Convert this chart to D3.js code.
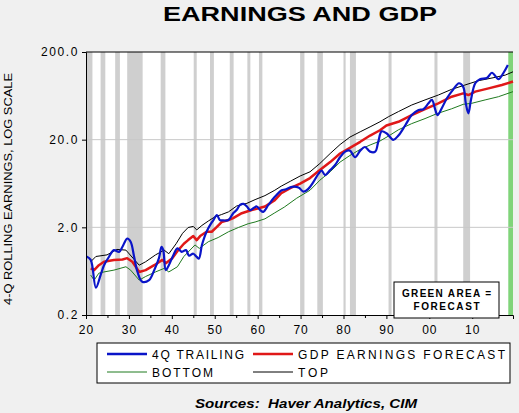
<!DOCTYPE html>
<html>
<head>
<meta charset="utf-8">
<script src="https://cdn.jsdelivr.net/npm/d3@7"></script>
<style>
  html, body { margin: 0; padding: 0; background: #f0f0f0; }
  svg { display: block; }
  text { font-family: "Liberation Sans", Arial, sans-serif; }
</style>
</head>
<body>
<svg id="chart" width="519" height="413"></svg>
<script>
// ---- Data ----
const trailing = [
  [1920.1,0.93],[1921.1,0.85],[1922.3,0.41],[1923.4,0.57],[1924.2,0.74],[1925.4,0.93],
  [1926.5,1.10],[1927.7,1.05],[1928.5,1.20],[1929.6,1.49],[1930.4,1.37],[1931.2,0.93],
  [1932.0,0.62],[1933.1,0.48],[1934.7,0.50],[1935.9,0.65],[1937.0,0.89],[1937.6,1.20],
  [1938.0,1.10],[1938.6,0.65],[1939.3,0.74],[1940.3,0.95],[1941.3,1.15],[1942.3,1.05],
  [1943.3,1.10],[1944.0,0.95],[1945.0,1.00],[1945.8,0.92],[1946.3,0.88],[1947.0,1.25],
  [1947.6,1.55],[1948.1,1.78],[1948.9,2.12],[1949.7,2.42],[1950.5,2.76],[1951.2,2.42],
  [1952.0,2.40],[1953.2,2.42],[1954.3,2.90],[1955.1,3.15],[1955.9,3.60],[1956.7,3.70],
  [1957.5,3.46],[1958.2,3.15],[1959.0,3.30],[1959.8,3.46],[1960.6,3.15],[1961.3,3.00],
  [1962.5,3.60],[1964.0,4.46],[1965.6,5.30],[1966.4,5.40],[1968.0,5.80],[1969.5,5.70],
  [1970.7,5.10],[1971.8,5.50],[1973.0,6.60],[1974.2,8.20],[1974.9,8.90],[1975.7,7.90],
  [1976.9,9.00],[1978.0,10.2],[1979.2,12.6],[1980.4,14.6],[1981.5,15.0],[1982.7,12.6],
  [1983.9,15.0],[1985.0,16.5],[1986.2,14.6],[1987.4,14.6],[1988.1,18.9],[1988.9,24.9],
  [1990.1,23.5],[1991.6,19.9],[1992.8,22.3],[1994.4,29.2],[1995.9,38.2],[1997.5,43.7],
  [1998.6,44.5],[1999.8,52.0],[2000.6,56.8],[2001.4,43.7],[2001.9,38.2],[2002.9,45.7],
  [2004.1,59.4],[2005.6,75.0],[2006.9,88.0],[2007.9,80.0],[2008.5,52.0],[2009.1,40.0],
  [2009.7,56.8],[2010.7,88.0],[2011.8,98.0],[2013.4,101],[2014.6,116],[2016.1,98.0],
  [2017.3,116],[2018.3,142]
];
const gdpForecast = [
  [1921.1,0.68],[1921.9,0.65],[1923.0,0.74],[1924.2,0.81],[1926.5,0.85],[1928.5,0.86],
  [1929.6,0.89],[1930.8,0.81],[1932.4,0.62],[1933.9,0.65],[1935.9,0.74],[1937.8,0.85],
  [1938.6,0.78],[1940.1,0.89],[1941.5,1.10],[1942.8,1.30],[1943.8,1.43],[1945.0,1.59],
  [1945.8,1.43],[1946.6,1.59],[1948.1,1.78],[1949.3,1.78],[1950.5,2.02],[1951.6,2.30],
  [1953.2,2.42],[1954.3,2.55],[1956.3,2.90],[1958.6,3.15],[1960.2,3.30],[1961.7,3.46],
  [1964.0,4.09],[1965.5,4.90],[1967.6,5.60],[1969.9,6.30],[1972.2,7.30],[1974.5,9.00],
  [1976.9,11.1],[1979.2,13.9],[1981.5,16.1],[1983.9,18.9],[1986.2,22.3],[1988.5,25.6],
  [1990.0,29.0],[1992.8,32.0],[1995.9,38.2],[1999.0,44.5],[2002.1,52.0],[2005.2,61.8],
  [2007.9,67.5],[2009.1,64.6],[2010.7,70.6],[2013.8,77.0],[2016.9,84.0],[2019.5,92.0]
];
const bottomBand = [
  [1921.1,0.57],[1921.9,0.50],[1923.0,0.60],[1924.2,0.62],[1926.5,0.65],[1929.3,0.71],
  [1930.4,0.65],[1932.4,0.50],[1933.9,0.55],[1936.2,0.62],[1938.2,0.68],[1939.3,0.62],
  [1941.3,0.71],[1942.8,0.93],[1945.4,1.26],[1946.4,1.15],[1948.5,1.37],[1950.8,1.53],
  [1953.2,1.78],[1955.5,1.99],[1957.8,2.20],[1959.4,2.30],[1961.7,2.50],[1964.0,2.93],
  [1966.2,3.40],[1969.1,4.30],[1972.2,5.30],[1974.5,6.90],[1976.9,8.60],[1979.2,11.1],
  [1981.5,13.2],[1983.9,15.5],[1986.2,17.4],[1988.5,19.3],[1990.5,22.0],[1992.8,25.9],
  [1995.9,30.5],[1999.0,34.8],[2001.7,39.5],[2005.2,45.0],[2007.9,50.6],[2009.9,52.0],
  [2013.0,56.8],[2016.1,61.8],[2019.5,70.6]
];
const topBand = [
  [1921.1,0.81],[1922.3,0.93],[1924.9,0.97],[1927.2,1.12],[1929.3,1.10],[1932.4,0.74],
  [1933.9,0.81],[1936.2,0.97],[1938.2,1.10],[1939.3,1.00],[1941.0,1.30],[1942.5,1.71],
  [1943.8,1.99],[1945.0,2.05],[1945.8,1.87],[1947.0,2.10],[1948.5,2.36],[1950.0,2.63],
  [1951.6,2.80],[1953.2,3.00],[1955.1,3.50],[1957.5,3.76],[1959.4,4.14],[1961.7,4.60],
  [1964.0,5.30],[1965.5,5.90],[1967.6,6.70],[1969.9,7.70],[1972.2,8.60],[1974.5,10.7],
  [1976.9,13.9],[1979.2,17.6],[1981.5,21.4],[1983.9,24.6],[1986.2,28.0],[1988.5,32.0],
  [1990.5,36.6],[1992.8,41.8],[1995.9,49.7],[1999.0,56.8],[2002.1,64.6],[2005.2,75.0],
  [2008.3,84.0],[2011.4,94.0],[2014.6,101],[2017.7,109],[2019.5,119]
];
const recessions = [
  [1920.0,1921.5],[1923.4,1924.5],[1926.8,1927.9],[1929.6,1933.2],[1937.4,1938.5],
  [1945.1,1945.8],[1948.9,1949.8],[1953.5,1954.4],[1957.6,1958.3],[1960.3,1961.1],
  [1969.9,1970.9],[1973.9,1975.2],[1980.0,1980.5],[1981.5,1982.9],[1990.5,1991.2],
  [2001.2,2001.9],[2007.9,2009.5]
];
const forecastSpan = [2018.4, 2019.5];
const xDomain = [1920, 2019.5];
const yDomain = [0.2, 200];
const yTicks = [0.2, 2, 20, 200];
const xMajorTicks = [1920,1930,1940,1950,1960,1970,1980,1990,2000,2010];
const xMinorTicks = [1925,1935,1945,1955,1965,1975,1985,1995,2005,2015];
const titleText = "EARNINGS AND GDP";
const yLabel = "4-Q ROLLING EARNINGS, LOG SCALE";
const sourceText = "Sources:  Haver Analytics, CIM";
const legendItems = ["4Q TRAILING", "GDP EARNINGS FORECAST", "BOTTOM", "TOP"];

// ---- Layout ----
const svg = d3.select("#chart");
const L = 86, R = 513, T = 52, B = 315;
const x = d3.scaleLinear().domain(xDomain).range([L, R]);
const y = d3.scaleLog().domain(yDomain).range([B, T]);

// plot background
svg.append("rect").attr("x", L).attr("y", T).attr("width", R - L).attr("height", B - T).attr("fill", "#ffffff");

// recession bars
svg.append("g").selectAll("rect").data(recessions).join("rect")
  .attr("x", d => x(d[0])).attr("y", T)
  .attr("width", d => Math.max(2, x(d[1]) - x(d[0])))
  .attr("height", B - T).attr("fill", "#cfcfcf");

// forecast area
svg.append("rect").attr("x", x(forecastSpan[0])).attr("y", T)
  .attr("width", x(forecastSpan[1]) - x(forecastSpan[0])).attr("height", B - T)
  .attr("fill", "#80d47a");

// gridlines
svg.append("g").selectAll("line").data([2, 20]).join("line")
  .attr("x1", L).attr("x2", R).attr("y1", d => y(d)).attr("y2", d => y(d))
  .attr("stroke", "#c8c8c8").attr("stroke-width", 1);

// lines
const line = d3.line().x(d => x(d[0])).y(d => y(d[1]));
const smooth = d3.line().x(d => x(d[0])).y(d => y(d[1])).curve(d3.curveCatmullRom.alpha(0.5));
svg.append("path").datum(bottomBand).attr("d", line).attr("fill", "none").attr("stroke", "#1f7a1f").attr("stroke-width", 1);
svg.append("path").datum(topBand).attr("d", line).attr("fill", "none").attr("stroke", "#000000").attr("stroke-width", 1);
svg.append("path").datum(gdpForecast).attr("d", line).attr("fill", "none").attr("stroke", "#e01818").attr("stroke-width", 2.5).attr("stroke-linejoin", "round");
svg.append("path").datum(trailing).attr("d", smooth).attr("fill", "none").attr("stroke", "#0a14c8").attr("stroke-width", 2.2).attr("stroke-linejoin", "round");

// axes
const yAxis = d3.axisLeft(y).tickValues(yTicks).tickFormat(d3.format(".1f")).tickSize(4).tickPadding(3);
const gy = svg.append("g").attr("transform", `translate(${L},0)`).call(yAxis);
gy.select(".domain").attr("stroke", "#000");
gy.selectAll("text").attr("font-size", 12).attr("letter-spacing", 1.6).attr("fill", "#000");

const xAxis = d3.axisBottom(x).tickValues(xMajorTicks)
  .tickFormat(d => String(d % 100).padStart(2, "0")).tickSize(4).tickPadding(6);
const gx = svg.append("g").attr("transform", `translate(0,${B})`).call(xAxis);
gx.select(".domain").attr("stroke", "#000");
gx.selectAll("text").attr("font-size", 12).attr("letter-spacing", 1).attr("fill", "#000");
const xMinor = d3.axisBottom(x).tickValues(xMinorTicks).tickFormat("").tickSize(3);
const gxm = svg.append("g").attr("transform", `translate(0,${B})`).call(xMinor);
gxm.select(".domain").remove();

// top border
svg.append("line").attr("x1", L).attr("x2", R).attr("y1", T).attr("y2", T).attr("stroke", "#000");

// forecast note box
svg.append("rect").attr("x", 394).attr("y", 282).attr("width", 105).attr("height", 36)
  .attr("fill", "#fff").attr("stroke", "#000").attr("stroke-width", 1);
svg.append("text").attr("x", 446.5).attr("y", 297).attr("text-anchor", "middle")
  .attr("font-size", 10).attr("font-weight", "bold")
  .attr("textLength", 89).attr("lengthAdjust", "spacing").text("GREEN AREA =");
svg.append("text").attr("x", 446.5).attr("y", 310).attr("text-anchor", "middle")
  .attr("font-size", 10).attr("font-weight", "bold")
  .attr("textLength", 66).attr("lengthAdjust", "spacing").text("FORECAST");

// title
svg.append("text").attr("x", 300).attr("y", 21).attr("text-anchor", "middle")
  .attr("font-size", 20).attr("font-weight", "bold")
  .attr("textLength", 274).attr("lengthAdjust", "spacingAndGlyphs").text(titleText);

// y label
svg.append("text").attr("transform", "translate(12,189) rotate(-90)").attr("text-anchor", "middle")
  .attr("font-size", 11).attr("textLength", 232).attr("lengthAdjust", "spacingAndGlyphs").text(yLabel);

// legend
svg.append("rect").attr("x", 97).attr("y", 343).attr("width", 413).attr("height", 40)
  .attr("fill", "#fff").attr("stroke", "#000");
const legendStyles = [
  {c: "#0a14c8", w: 2.5, lx: 107, ty: 354, tl: 92},
  {c: "#e01818", w: 2.5, lx: 253, ty: 354, tl: 207},
  {c: "#1f7a1f", w: 1, lx: 107, ty: 372, tl: 61},
  {c: "#000000", w: 1, lx: 253, ty: 372, tl: 30}
];
legendItems.forEach((name, i) => {
  const s = legendStyles[i];
  svg.append("line").attr("x1", s.lx).attr("x2", s.lx + 40).attr("y1", s.ty).attr("y2", s.ty)
    .attr("stroke", s.c).attr("stroke-width", s.w);
  svg.append("text").attr("x", s.lx + 45).attr("y", s.ty + 4.5).attr("font-size", 12)
    .attr("textLength", s.tl).attr("lengthAdjust", "spacing").text(name);
});

// sources
svg.append("text").attr("x", 306).attr("y", 408).attr("text-anchor", "middle")
  .attr("font-size", 12.5).attr("font-weight", "bold").attr("font-style", "italic")
  .attr("textLength", 222).attr("lengthAdjust", "spacingAndGlyphs")
  .attr("xml:space", "preserve").style("white-space", "pre").text(sourceText);
</script>
</body>
</html>
